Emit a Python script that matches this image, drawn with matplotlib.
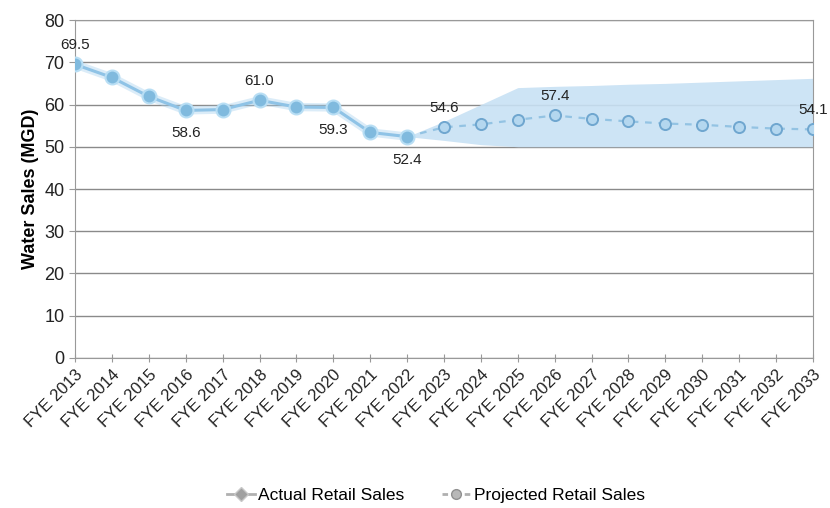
import numpy as np
import matplotlib
matplotlib.use("Agg")
from matplotlib import pyplot as plt
from matplotlib.lines import Line2D

plt.rcParams['font.family'] = ['Liberation Sans', 'DejaVu Sans']

# data
years = ["FYE %d" % y for y in range(2013, 2034)]
actual = [69.5, 66.4, 61.9, 58.6, 58.8, 61.0, 59.4, 59.3, 53.4, 52.4]
projected = [54.6, 55.3, 56.4, 57.4, 56.6, 56.0, 55.5, 55.2, 54.7, 54.3, 54.1]
band_upper = [52.4, 56.0, 60.0, 64.0, 64.3, 64.5, 64.8, 65.0, 65.3, 65.6, 65.9, 66.2]
band_lower = [52.4, 51.5, 50.5, 50.0, 50.0, 50.0, 50.0, 50.0, 50.0, 50.0, 50.0, 50.0]
labels = {0: 69.5, 3: 58.6, 5: 61.0, 7: 59.3, 9: 52.4, 10: 54.6, 13: 57.4, 20: 54.1}
label_below = [3, 7, 9]

x = np.arange(len(years))
n_act = len(actual)
x_act = x[:n_act]
x_proj = x[n_act - 1:]
y_proj = np.concatenate([actual[-1:], projected])

fig = plt.figure(figsize=(8.3, 5.08), dpi=100)
ax = fig.add_axes([0.0904, 0.2953, 0.8891, 0.6653])

# shaded projection range
ax.fill_between(x_proj, band_lower, band_upper, color="#c8e1f4", alpha=0.9,
                linewidth=0, zorder=1)

# actual
ax.plot(x_act, actual, color="#a6d1ee", lw=6, alpha=0.4, zorder=2)
ax.plot(x_act, actual, color="#8fc3e6", lw=2.2, marker="o", ms=10,
        mfc="#80bade", mec="#b8def4", mew=1.5, zorder=3)

# projected
ax.plot(x_proj, y_proj, color="#93c3e3", lw=1.6, ls=(0, (3, 3)), zorder=2)
ax.plot(x_proj[1:], projected, ls="none", marker="o", ms=8,
        mfc="#b4d7ef", mec="#6fa6cf", mew=1.4, zorder=3)

for i, v in labels.items():
    off = -16.5 if i in label_below else 14
    ax.annotate("%.1f" % v, (i, v), textcoords="offset points", xytext=(0, off),
                ha="center", va="center", fontsize=11, color="#222222", zorder=5)

ax.set_xlim(0, len(years) - 1)
ax.set_ylim(0, 80)
ax.set_yticks(range(0, 81, 10))
ax.set_xticks(x)
ax.set_xticklabels(years, rotation=45, ha="right", rotation_mode="anchor")
ax.tick_params(axis="y", labelsize=13, colors="#222222", length=4, color="#999999")
ax.tick_params(axis="x", labelsize=12, colors="#222222", direction="inout",
               length=6, color="#999999")
ax.grid(axis="y", color="#8a8a8a", lw=1.0)
ax.set_axisbelow(True)
for s in ax.spines.values():
    s.set_color("#999999")
ax.set_ylabel("Water Sales (MGD)", fontsize=13, fontweight="bold", labelpad=4)

handles = [
    Line2D([], [], color="#b0b0b0", lw=2, marker="D", ms=7, mfc="#a0a0a0", mec="#c8c8c8"),
    Line2D([], [], color="#b0b0b0", lw=2, ls=(0, (2, 2)), marker="o", ms=7,
           mfc="#b8b8b8", mec="#909090"),
]
fig.legend(handles, ["Actual Retail Sales", "Projected Retail Sales"],
           loc="center", bbox_to_anchor=(0.525, 0.025), ncol=2, frameon=False,
           fontsize=12.5, handlelength=1.6, handletextpad=0.2, columnspacing=2.2)

plt.savefig("out.png")
